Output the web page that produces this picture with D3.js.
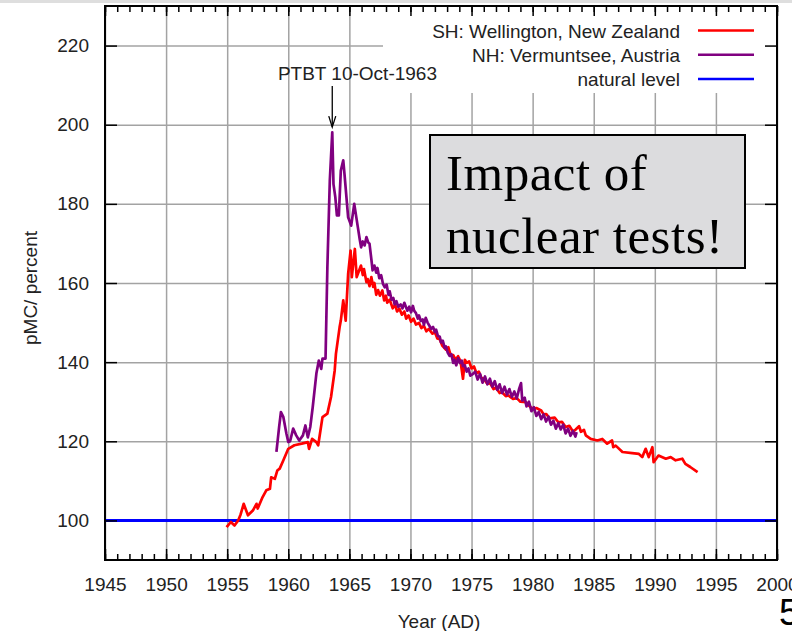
<!DOCTYPE html>
<html>
<head>
<meta charset="utf-8">
<script src="https://cdn.jsdelivr.net/npm/d3@7"></script>
<style>
  html, body { margin: 0; padding: 0; background: #fff; }
  svg { display: block; }
  text { font-family: "Liberation Sans", Arial, sans-serif; }
</style>
</head>
<body>
<svg id="chart" width="792" height="631"></svg>
<script>
// ---------- data ----------
const shYears = [1954.95,1955.3,1955.6,1955.9,1956.1,1956.35,1956.7,1957.1,1957.4,1957.5,1957.9,1958.2,1958.5,1958.6,1958.9,1959.1,1959.3,1959.6,1960.0,1960.5,1961.1,1961.6,1961.7,1961.95,1962.3,1962.45,1962.8,1963.2,1963.5,1963.8,1963.9,1964.2,1964.3,1964.5,1964.7,1964.9,1965.1,1965.2,1965.45,1965.6,1965.95,1966.1,1966.2,1966.4,1966.5,1966.65,1966.8,1966.95,1967.05,1967.2,1967.35,1967.5,1967.7,1967.85,1968.0,1968.1,1968.3,1968.55,1968.75,1968.9,1969.1,1969.3,1969.5,1969.65,1969.85,1970.05,1970.25,1970.45,1970.7,1970.9,1971.1,1971.3,1971.5,1971.8,1972.0,1972.2,1972.4,1972.6,1972.9,1973.1,1973.3,1973.5,1973.7,1973.9,1974.1,1974.3,1974.45,1974.6,1974.8,1975.0,1975.2,1975.4,1975.6,1975.8,1976.0,1976.3,1976.5,1976.8,1977.0,1977.3,1977.5,1977.8,1978.0,1978.4,1978.7,1979.0,1979.45,1979.7,1980.0,1980.3,1980.7,1980.9,1981.1,1981.4,1981.8,1982.1,1982.4,1982.7,1983.0,1983.3,1983.5,1983.8,1983.95,1984.2,1984.35,1984.75,1985.3,1985.7,1986.1,1986.5,1986.6,1986.8,1987.35,1988.15,1988.7,1988.97,1989.25,1989.5,1989.8,1989.9,1990.3,1990.9,1991.3,1991.7,1992.25,1992.5,1992.9,1993.5];
const shValues = [98.3,99.6,98.7,100.0,101.5,104.2,101.3,102.5,104.2,103.0,105.9,107.6,108.0,110.9,110.5,112.6,113.1,115.2,118.1,119.0,119.4,119.8,118.1,120.6,119.8,119.0,126.1,127.0,131.2,137.9,142.1,148.8,150.5,155.6,150.5,162.3,168.2,161.5,168.6,161.5,164.4,162.0,163.5,160.2,161.0,159.2,161.5,159.0,160.0,157.0,158.2,156.8,158.1,155.6,156.8,155.0,155.8,153.6,154.5,152.8,153.5,152.0,152.8,151.0,151.8,150.2,151.0,149.5,149.9,148.6,149.2,147.8,148.4,147.2,147.6,146.0,145.8,144.2,143.2,143.8,141.6,141.8,140.6,141.5,140.2,135.8,140.6,139.8,140.2,138.4,138.9,137.2,137.6,136.0,135.8,134.5,134.8,133.2,133.6,132.2,132.4,131.4,131.6,130.7,130.9,130.0,129.9,129.0,128.2,128.4,127.8,126.8,126.9,125.8,126.0,124.8,124.9,123.6,123.9,122.5,122.9,123.8,122.4,122.9,121.5,120.6,120.2,120.6,119.4,120.2,118.5,118.9,117.3,117.0,116.8,116.0,118.1,116.0,118.5,114.7,116.4,115.6,116.0,115.2,115.6,114.3,113.5,112.2];

const nhYears = [1959.03,1959.25,1959.4,1959.6,1959.85,1960.0,1960.15,1960.4,1960.65,1960.9,1961.2,1961.4,1961.6,1961.8,1962.0,1962.3,1962.5,1962.7,1962.8,1963.05,1963.2,1963.4,1963.6,1963.7,1963.85,1963.98,1964.14,1964.3,1964.5,1964.6,1964.9,1965.15,1965.4,1965.7,1965.85,1965.96,1966.1,1966.25,1966.4,1966.55,1966.65,1966.8,1966.9,1967.05,1967.2,1967.3,1967.45,1967.6,1967.75,1967.9,1968.05,1968.2,1968.3,1968.45,1968.6,1968.7,1968.85,1969.0,1969.2,1969.35,1969.5,1969.6,1969.75,1969.9,1970.05,1970.2,1970.3,1970.45,1970.6,1970.7,1970.85,1971.0,1971.1,1971.25,1971.4,1971.55,1971.7,1971.85,1972.0,1972.1,1972.25,1972.4,1972.5,1972.65,1972.8,1972.9,1973.05,1973.2,1973.35,1973.5,1973.6,1973.75,1973.9,1974.05,1974.2,1974.3,1974.45,1974.6,1974.75,1974.9,1975.1,1975.3,1975.5,1975.7,1975.9,1976.1,1976.3,1976.5,1976.7,1976.9,1977.1,1977.3,1977.5,1977.7,1977.9,1978.1,1978.3,1978.5,1978.7,1978.9,1979.05,1979.15,1979.35,1979.5,1979.7,1979.9,1980.1,1980.3,1980.5,1980.7,1980.9,1981.1,1981.3,1981.5,1981.7,1981.9,1982.1,1982.3,1982.5,1982.7,1982.9,1983.1,1983.3,1983.5,1983.6];
const nhValues = [117.3,123.6,127.4,126.1,121.9,119.8,120.0,123.2,121.5,120.2,121.5,124.0,121.0,123.6,128.6,137.1,140.4,138.3,140.9,140.9,164.0,185.9,198.1,185.0,181.7,177.1,177.1,188.4,191.0,187.6,176.6,174.5,180.0,174.0,171.0,169.0,170.5,169.5,171.6,170.2,169.9,166.0,163.2,164.4,162.6,163.8,161.2,162.0,159.8,158.9,159.6,157.0,157.9,155.8,156.2,154.6,155.4,154.0,154.6,153.6,155.0,154.2,153.0,154.0,152.6,154.2,153.0,152.4,151.0,151.8,150.4,150.8,149.4,151.2,150.0,149.2,148.4,148.9,147.6,148.2,146.6,146.4,145.0,145.4,143.6,144.0,142.4,141.6,142.0,139.8,140.6,139.2,141.0,139.8,140.4,139.0,139.2,137.6,138.4,136.6,137.0,137.6,135.6,137.0,134.8,136.4,134.4,135.8,133.8,135.2,133.0,134.4,132.2,133.8,131.8,133.2,131.2,132.6,130.8,133.3,134.7,130.3,131.0,128.8,130.0,127.6,128.6,126.4,127.4,125.6,126.8,125.0,126.2,124.2,125.2,123.2,124.6,123.0,124.2,122.0,123.2,121.4,122.6,121.2,122.3];

const naturalLevel = 100;

const xMajorTicks = [1945,1950,1955,1960,1965,1970,1975,1980,1985,1990,1995,2000];
const xMinorTicks = d3.range(1945, 2001, 1);
const yTicks = [100,120,140,160,180,200,220];

const legendLabels = ["SH: Wellington, New Zealand","NH: Vermuntsee, Austria","natural level"];
const seriesColors = ["#ff0000","#800080","#0000ff"];

const annotationText = "PTBT 10-Oct-1963";
const annotationYear = 1963.6;

// ---------- layout ----------
const svg = d3.select("#chart");
const L = 105, R = 777, T = 6, B = 560;
const x = d3.scaleLinear().domain([1945, 2000]).range([L, R]);
const y = d3.scaleLinear().domain([90, 230]).range([B, T]);

// top grey strip (slide frame)
svg.append("rect").attr("x", 0).attr("y", 0).attr("width", 792).attr("height", 3).attr("fill", "#dedede");

// grid
const gridColor = "#a3a3a3";
const gx = svg.append("g").attr("transform", `translate(0,${B})`)
  .call(d3.axisBottom(x).tickValues(xMajorTicks).tickSize(-(B - T)).tickFormat(""));
gx.select(".domain").remove();
gx.selectAll("line").attr("stroke", gridColor).attr("stroke-width", 1.5);
const gy = svg.append("g").attr("transform", `translate(${L},0)`)
  .call(d3.axisLeft(y).tickValues(yTicks).tickSize(-(R - L)).tickFormat(""));
gy.select(".domain").remove();
gy.selectAll("line").attr("stroke", gridColor).attr("stroke-width", 1.5);

// key area masks grid
svg.append("rect").attr("x", 383).attr("y", T).attr("width", R - 383).attr("height", 93 - T).attr("fill", "#fff");

// clip
svg.append("clipPath").attr("id", "clip").append("rect")
  .attr("x", L).attr("y", T).attr("width", R - L).attr("height", B - T);

const plot = svg.append("g").attr("clip-path", "url(#clip)");

// natural level
plot.append("line")
  .attr("x1", x(1945)).attr("x2", x(2000))
  .attr("y1", y(naturalLevel)).attr("y2", y(naturalLevel))
  .attr("stroke", seriesColors[2]).attr("stroke-width", 3);

const line = d3.line().x(d => x(d[0])).y(d => y(d[1]));
plot.append("path")
  .datum(shYears.map((v, i) => [v, shValues[i]]))
  .attr("d", line).attr("fill", "none")
  .attr("stroke", seriesColors[0]).attr("stroke-width", 2.7).attr("stroke-linejoin", "round");
plot.append("path")
  .datum(nhYears.map((v, i) => [v, nhValues[i]]))
  .attr("d", line).attr("fill", "none")
  .attr("stroke", seriesColors[1]).attr("stroke-width", 2.7).attr("stroke-linejoin", "round");

// border
svg.append("rect").attr("x", L).attr("y", T).attr("width", R - L).attr("height", B - T)
  .attr("fill", "none").attr("stroke", "#000").attr("stroke-width", 2);

// ticks
function styleAxis(g) {
  g.select(".domain").remove();
  g.selectAll("line").attr("stroke", "#000").attr("stroke-width", 1.5);
  g.selectAll("text").attr("fill", "#222").style("font-size", "19px")
    .style("font-family", "'Liberation Sans', Arial, sans-serif");
}
const bx = svg.append("g").attr("transform", `translate(0,${B})`)
  .call(d3.axisBottom(x).tickValues(xMajorTicks).tickSize(-11).tickPadding(18).tickFormat(d3.format("d")));
styleAxis(bx);
const bxm = svg.append("g").attr("transform", `translate(0,${B})`)
  .call(d3.axisBottom(x).tickValues(xMinorTicks).tickSize(-6).tickFormat(""));
styleAxis(bxm);
const tx = svg.append("g").attr("transform", `translate(0,${T})`)
  .call(d3.axisTop(x).tickValues(xMajorTicks).tickSize(-10).tickFormat(""));
styleAxis(tx);
const txm = svg.append("g").attr("transform", `translate(0,${T})`)
  .call(d3.axisTop(x).tickValues(xMinorTicks).tickSize(-6).tickFormat(""));
styleAxis(txm);
const ly = svg.append("g").attr("transform", `translate(${L},0)`)
  .call(d3.axisLeft(y).tickValues(yTicks).tickSize(-12).tickPadding(16).tickFormat(d3.format("d")));
styleAxis(ly);
const ry = svg.append("g").attr("transform", `translate(${R},0)`)
  .call(d3.axisRight(y).tickValues(yTicks).tickSize(-12).tickFormat(""));
styleAxis(ry);

// axis titles
svg.append("text").attr("x", 439).attr("y", 628).attr("text-anchor", "middle")
  .attr("fill", "#222").style("font-size", "19px").text("Year (AD)");
svg.append("text").attr("transform", "translate(37,288) rotate(-90)").attr("text-anchor", "middle")
  .attr("fill", "#222").style("font-size", "19px").text("pMC/ percent");

// legend
legendLabels.forEach((lab, i) => {
  const yy = 30.5 + i * 24.2;
  svg.append("text").attr("x", 680).attr("y", yy + 7).attr("text-anchor", "end")
    .attr("fill", "#222").style("font-size", "19px").text(lab);
  svg.append("line").attr("x1", 698).attr("x2", 754).attr("y1", yy).attr("y2", yy)
    .attr("stroke", seriesColors[i]).attr("stroke-width", 2.5);
});

// PTBT annotation
svg.append("text").attr("x", x(1959.15)).attr("y", y(211.3)).attr("fill", "#222")
  .style("font-size", "19px").text(annotationText);
const ax = x(annotationYear), ay0 = y(209.8), ay1 = y(199.4);
svg.append("line").attr("x1", ax).attr("x2", ax).attr("y1", ay0).attr("y2", ay1)
  .attr("stroke", "#000").attr("stroke-width", 1.3);
svg.append("path").attr("d", `M${ax - 3.5},${ay1 - 11} L${ax},${ay1} L${ax + 3.5},${ay1 - 11}`)
  .attr("fill", "none").attr("stroke", "#000").attr("stroke-width", 1.3);

// callout box
svg.append("rect").attr("x", 430).attr("y", 135).attr("width", 315).attr("height", 133)
  .attr("fill", "#dcdcde").attr("stroke", "#000").attr("stroke-width", 2);
const boxText = svg.append("text").attr("fill", "#000")
  .style("font-family", "'Liberation Serif', 'Times New Roman', serif").style("font-size", "51px")
  .style("letter-spacing", "0.5px");
boxText.append("tspan").attr("x", 446).attr("y", 190).text("Impact of");
boxText.append("tspan").attr("x", 446).attr("y", 253).text("nuclear tests!");

// page number
svg.append("text").attr("x", 779).attr("y", 625).attr("fill", "#000")
  .style("font-size", "37px").text("5");
</script>
</body>
</html>
